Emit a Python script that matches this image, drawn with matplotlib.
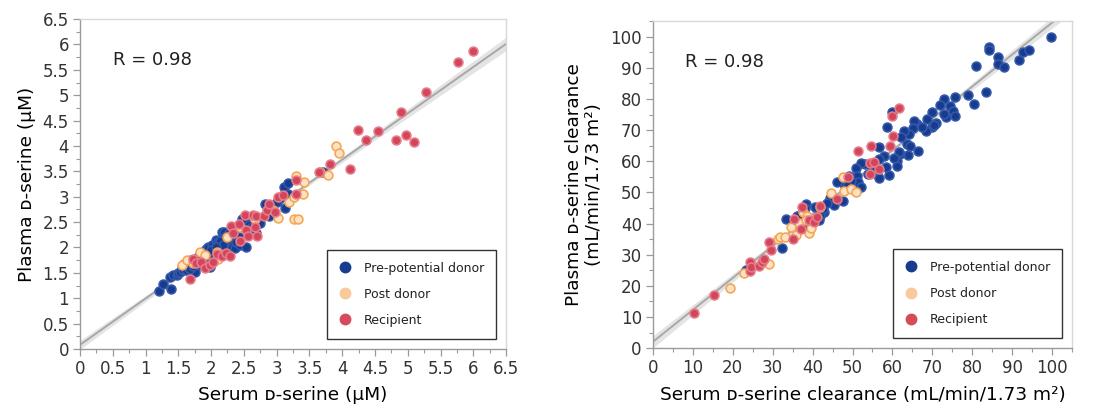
import matplotlib
matplotlib.use("Agg")
import matplotlib.pyplot as plt
import numpy as np
from matplotlib.lines import Line2D
from matplotlib.ticker import MultipleLocator

# ---------------------------------------------------------------- #
#  Data: left panel  (serum vs plasma D-serine, µM)                  #
# ---------------------------------------------------------------- #
conc_pre_x = [1.20, 1.27, 1.39, 1.38, 1.42, 1.48, 1.50, 1.53, 1.55, 1.57, 1.58, 1.60,
              1.62, 1.63, 1.65, 1.67, 1.70, 1.72, 1.74, 1.76, 1.78, 1.80, 1.83, 1.85,
              1.88, 1.90, 1.92, 1.95, 1.97, 1.99, 2.02, 2.05, 2.07, 2.10, 2.13, 2.16,
              2.18, 2.20, 2.22, 2.25, 2.27, 2.29, 2.32, 2.34, 2.36, 2.38, 2.40, 2.42,
              2.44, 2.47, 2.50, 2.52, 2.54, 2.58, 2.62, 2.69, 2.74, 2.82, 2.89, 3.00,
              3.05, 3.11, 3.13, 3.17, 3.17, 3.70, 1.68, 1.73, 1.86, 1.94, 2.00, 2.08, 2.12]
conc_pre_y = [1.14, 1.29, 1.19, 1.41, 1.45, 1.46, 1.49, 1.52, 1.60, 1.55, 1.68, 1.62,
              1.55, 1.70, 1.66, 1.60, 1.75, 1.55, 1.72, 1.52, 1.68, 1.82, 1.75, 1.65,
              1.90, 1.80, 1.98, 2.00, 1.85, 1.62, 2.05, 1.95, 2.15, 2.10, 2.12, 2.30,
              2.05, 2.30, 2.22, 2.18, 2.28, 2.15, 2.00, 2.28, 1.99, 2.10, 2.41, 2.20,
              2.05, 2.57, 2.48, 2.51, 2.01, 2.45, 2.40, 2.28, 2.49, 2.85, 2.62, 2.90,
              2.98, 3.20, 2.78, 3.27, 3.06, 3.48, 1.58, 1.64, 1.72, 1.88, 1.95, 2.00, 1.90]

conc_post_x = [1.55, 1.63, 1.72, 1.83, 1.90, 2.09, 2.11, 2.25, 2.44, 2.67, 2.95, 3.02,
               3.19, 3.26, 3.27, 3.33, 3.30, 3.40, 3.41, 3.66, 3.78, 3.90, 3.95]
conc_post_y = [1.65, 1.75, 1.70, 1.92, 1.85, 1.92, 1.78, 2.20, 2.41, 2.57, 2.74, 2.59,
               2.89, 3.00, 2.57, 2.57, 3.40, 3.06, 3.29, 3.48, 3.43, 4.00, 3.86]

conc_rec_x = [1.68, 1.73, 1.77, 1.84, 1.90, 1.99, 2.03, 2.09, 2.16, 2.23, 2.29, 2.31,
              2.34, 2.42, 2.44, 2.51, 2.54, 2.57, 2.64, 2.67, 2.69, 2.70, 2.81, 2.85,
              2.89, 2.98, 3.02, 3.10, 3.29, 3.30, 3.64, 3.82, 4.12, 4.24, 4.37, 4.54,
              4.82, 4.89, 4.98, 5.10, 5.28, 5.77, 5.99]
conc_rec_y = [1.38, 1.77, 1.70, 1.72, 1.60, 1.65, 1.72, 1.88, 1.83, 1.90, 1.83, 2.43,
              2.28, 2.46, 2.13, 2.64, 2.34, 2.22, 2.64, 2.41, 2.62, 2.23, 2.62, 2.74,
              2.85, 2.70, 2.99, 3.04, 3.33, 3.06, 3.48, 3.65, 3.54, 4.32, 4.12, 4.30,
              4.12, 4.67, 4.22, 4.07, 5.07, 5.66, 5.88]

# ---------------------------------------------------------------- #
#  Data: right panel (clearance, mL/min/1.73 m2)                     #
# ---------------------------------------------------------------- #
cl_pre_x = [99.8, 84.1, 84.1, 86.5, 86.5, 87.9, 81.0, 83.5, 78.9, 80.4, 91.8, 92.8,
            94.2, 75.6, 72.9, 72.0, 74.5, 75.3, 75.6, 73.5, 72.9, 69.9, 71.0, 69.9,
            68.7, 68.3, 66.2, 65.3, 65.2, 64.1, 63.0, 62.2, 63.7, 64.5, 66.4, 64.0,
            62.0, 61.7, 61.2, 61.2, 58.6, 59.8, 59.1, 58.5, 57.8, 56.6, 56.6, 56.1,
            56.7, 55.3, 54.5, 53.2, 52.1, 51.0, 51.1, 51.5, 52.1, 51.0, 49.5, 49.0,
            47.8, 47.5, 46.1, 45.4, 44.4, 42.9, 42.6, 41.8, 41.5, 40.7, 38.4, 38.2,
            37.1, 36.1, 33.4, 32.3, 38.2, 23.4, 67.5, 70.5, 60.5, 53.8, 48.5, 43.5]
cl_pre_y = [100.0, 96.8, 95.8, 93.4, 91.4, 90.4, 90.5, 82.4, 81.3, 78.3, 92.6, 95.0,
            95.7, 80.5, 79.9, 78.2, 77.9, 76.3, 74.7, 74.1, 75.2, 75.7, 72.2, 70.9,
            73.6, 69.8, 72.0, 73.0, 70.6, 68.8, 69.8, 67.9, 65.6, 64.8, 63.2, 62.0,
            62.4, 63.1, 60.2, 58.6, 70.9, 75.7, 55.7, 58.1, 61.8, 64.5, 60.7, 55.9,
            54.5, 57.5, 59.1, 59.1, 59.4, 57.9, 55.4, 53.3, 51.7, 50.6, 53.8, 55.4,
            52.7, 47.4, 53.3, 46.1, 48.1, 43.6, 44.7, 42.6, 41.3, 45.3, 46.3, 45.0,
            43.1, 42.6, 41.5, 32.2, 38.5, 25.1, 71.0, 71.5, 61.0, 56.0, 52.0, 46.5]

cl_post_x = [19.2, 22.7, 29.0, 31.3, 31.9, 33.0, 34.6, 35.9, 36.5, 37.5, 39.0, 38.6,
             39.6, 41.9, 44.7, 47.6, 47.9, 49.5, 50.9, 38.3]
cl_post_y = [19.4, 24.2, 27.1, 35.1, 35.6, 35.8, 38.8, 36.4, 40.1, 43.6, 37.0, 42.6,
             38.6, 45.2, 49.7, 54.9, 50.4, 51.1, 50.3, 41.0]

cl_rec_x = [10.2, 15.2, 24.4, 24.2, 24.6, 26.5, 27.3, 27.7, 29.1, 29.6, 35.1, 35.3,
            37.0, 37.4, 39.0, 40.3, 41.1, 41.9, 46.1, 48.8, 51.5, 54.7, 54.5, 55.3,
            56.6, 59.5, 59.9, 60.1, 61.6, 54.5]
cl_rec_y = [11.2, 17.2, 27.6, 24.7, 26.0, 26.3, 27.6, 28.7, 34.0, 31.6, 35.1, 41.5,
            38.3, 45.2, 41.0, 40.4, 42.0, 45.8, 47.9, 54.9, 63.4, 65.0, 59.4, 59.7,
            57.5, 64.8, 74.7, 68.2, 77.0, 55.9]

GROUP_LABELS = ["Pre-potential donor", "Post donor", "Recipient"]

# ---------------------------------------------------------------- #
#  Styles                                                            #
# ---------------------------------------------------------------- #
FACE = ["#173c8f", "#fde3c4", "#d2455a"]
EDGE = ["#3358a8", "#f6a654", "#e77a88"]
LEG_FACE = ["#173c8f", "#f8c99b", "#d64a5a"]
SPINE_DARK = "#9a9a9a"
SPINE_LIGHT = "#d8d8d8"

plt.rcParams["font.family"] = ["DejaVu Sans"]
plt.rcParams["text.color"] = "#222222"


def fit_band(ax, xs, ys, xmax):
    xs = np.asarray(xs)
    ys = np.asarray(ys)
    slope, icpt = np.polyfit(xs, ys, 1)
    xx = np.linspace(0, xmax, 200)
    yy = slope * xx + icpt
    n = len(xs)
    resid = ys - (slope * xs + icpt)
    s = np.sqrt(np.sum(resid ** 2) / (n - 2))
    se = s * np.sqrt(1 / n + (xx - xs.mean()) ** 2 / np.sum((xs - xs.mean()) ** 2))
    ax.fill_between(xx, yy - 1.97 * se, yy + 1.97 * se, color="#e4e4e4", lw=0, zorder=1)
    ax.plot(xx, yy, color="#a8a8a8", lw=1.4, zorder=2)


def draw_panel(ax, groups, lim, major, minor, xlabel, ylabel):
    allx = np.concatenate([g[0] for g in groups])
    ally = np.concatenate([g[1] for g in groups])
    fit_band(ax, allx, ally, lim)
    for i, (gx, gy) in enumerate(groups):
        ax.scatter(gx, gy, s=40, facecolor=FACE[i], edgecolor=EDGE[i],
                   linewidth=1.2, zorder=3 + i)

    ax.set_xlim(0, lim)
    ax.set_ylim(0, lim)
    ax.xaxis.set_major_locator(MultipleLocator(major))
    ax.yaxis.set_major_locator(MultipleLocator(major))
    ax.xaxis.set_minor_locator(MultipleLocator(minor))
    ax.yaxis.set_minor_locator(MultipleLocator(minor))
    ax.tick_params(which="major", length=5, width=0.9, color=SPINE_DARK,
                   labelsize=12, labelcolor="#333333", pad=3)
    ax.tick_params(which="minor", length=3, width=0.8, color=SPINE_DARK)
    ax.xaxis.set_major_formatter(plt.FuncFormatter(lambda v, p: f"{v:g}"))
    ax.yaxis.set_major_formatter(plt.FuncFormatter(lambda v, p: f"{v:g}"))

    for side in ("left", "bottom"):
        ax.spines[side].set_color(SPINE_DARK)
        ax.spines[side].set_linewidth(1.0)
    for side in ("top", "right"):
        ax.spines[side].set_color(SPINE_LIGHT)
        ax.spines[side].set_linewidth(1.0)

    ax.set_xlabel(xlabel, fontsize=13.3, labelpad=6)
    ax.set_ylabel(ylabel, fontsize=13.3, labelpad=5, linespacing=1.15)

    ax.text(0.077, 0.875, "R = 0.98", transform=ax.transAxes,
            fontsize=13, ha="left", va="center")

    handles = [Line2D([], [], marker="o", ls="none", markersize=7.5,
                      markerfacecolor=LEG_FACE[i], markeredgecolor=LEG_FACE[i])
               for i in range(3)]
    leg = ax.legend(handles, GROUP_LABELS, loc="lower right",
                    bbox_to_anchor=(0.985, 0.02), fontsize=9, frameon=True,
                    fancybox=False, edgecolor="#333333", framealpha=1,
                    handletextpad=1.0, labelspacing=1.05, borderpad=0.95,
                    handlelength=1.0, borderaxespad=0.3)
    leg.get_frame().set_linewidth(1.0)


fig = plt.figure(figsize=(10.93, 4.15), dpi=100)
ax1 = fig.add_axes([0.0732, 0.159, 0.3898, 0.795])
ax2 = fig.add_axes([0.5974, 0.161, 0.3834, 0.788])

draw_panel(ax1,
           [(conc_pre_x, conc_pre_y), (conc_post_x, conc_post_y), (conc_rec_x, conc_rec_y)],
           6.5, 0.5, 0.25,
           "Serum \u1d05-serine (\u00b5M)", "Plasma \u1d05-serine (\u00b5M)")

draw_panel(ax2,
           [(cl_pre_x, cl_pre_y), (cl_post_x, cl_post_y), (cl_rec_x, cl_rec_y)],
           105, 10, 5,
           "Serum \u1d05-serine clearance (mL/min/1.73 m\u00b2)",
           "Plasma \u1d05-serine clearance\n(mL/min/1.73 m\u00b2)")
ax2.set_xticks(np.arange(0, 101, 10))
ax2.set_yticks(np.arange(0, 101, 10))

fig.savefig("out.png", dpi=100, facecolor="white")
